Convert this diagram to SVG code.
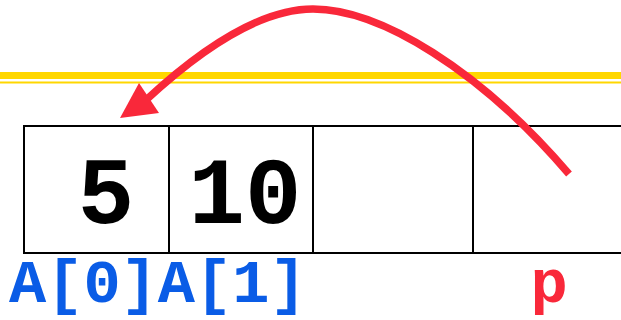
<svg xmlns="http://www.w3.org/2000/svg" width="621" height="320" viewBox="0 0 621 320">
<style>
.cell{fill:#fff;stroke:#000;stroke-width:2}
.val{font-family:"Liberation Mono","Courier New",monospace;font-weight:bold;font-size:94px;fill:#000;text-anchor:middle}
.lbl{font-family:"Liberation Mono","Courier New",monospace;font-weight:bold;font-size:62px}
.ptr{fill:none;stroke:#f9283a;stroke-width:7.5}
</style>
<g id="rule">
<line x1="0" y1="75.5" x2="621" y2="75.5" stroke="#ffd700" stroke-width="7"/>
<line x1="0" y1="82.5" x2="621" y2="82.5" stroke="#ffd700" stroke-width="2"/>
</g>
<g id="cell0"><rect class="cell" x="24" y="126" width="145" height="127"/><text class="val" x="106" y="223">5</text></g>
<g id="cell1"><rect class="cell" x="169" y="126" width="144" height="127"/><text class="val" x="245" y="223">10</text></g>
<g id="cell2"><rect class="cell" x="313" y="126" width="160" height="127"/></g>
<g id="cell3"><rect class="cell" x="473" y="126" width="160" height="127"/></g>
<g id="labels">
<text class="lbl" x="9" y="302" fill="#0a5ce6">A[0]A[1]</text>
<text class="lbl" x="549" y="302" fill="#f9283a" text-anchor="middle">p</text>
</g>
<g id="connectors">
<path class="ptr" d="M569,174 C480,70 380,9 313,9 C260,9 200,50 146,100"/>
<polygon points="120,118 139,83 159,113" fill="#f9283a"/>
</g>
</svg>
